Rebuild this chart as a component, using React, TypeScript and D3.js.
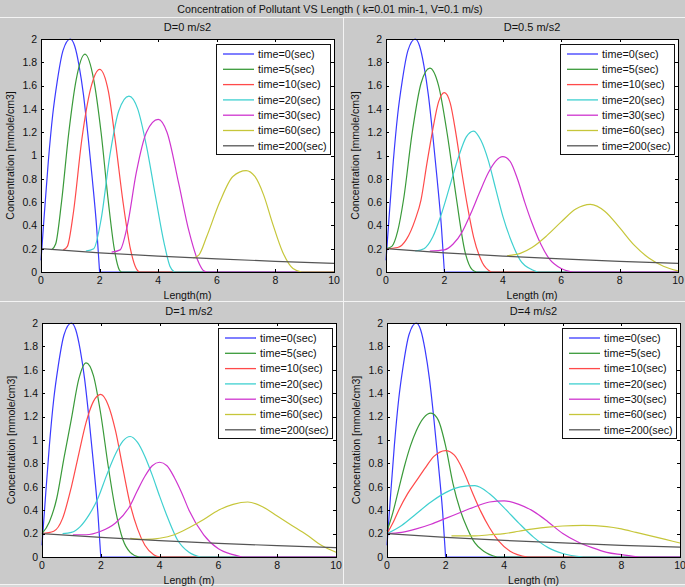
import React from 'react';
import * as d3 from 'd3';

type Pt = [number, number];

const mainTitle = 'Concentration of Pollutant VS Length ( k=0.01 min-1, V=0.1 m/s)';
const panelTitles = ['D=0 m/s2', 'D=0.5 m/s2', 'D=1 m/s2', 'D=4 m/s2'];
const xAxisLabels = ['Length(m)', 'Length (m)', 'Length (m)', 'Length (m)'];
const yAxisLabel = 'Concentration [mmole/cm3]';
const legendLabels = ['time=0(sec)', 'time=5(sec)', 'time=10(sec)', 'time=20(sec)', 'time=30(sec)', 'time=60(sec)', 'time=200(sec)'];
const xTicks = [0, 2, 4, 6, 8, 10];
const yTicks = [0, 0.2, 0.4, 0.6, 0.8, 1, 1.2, 1.4, 1.6, 1.8, 2];

// time = 0 (same initial profile in every panel)
const t0: Pt[] = [[0, 0.1], [0.1, 0.45], [0.25, 0.95], [0.4, 1.35], [0.55, 1.63], [0.75, 1.9], [1, 2.0], [1.15, 1.94], [1.3, 1.77], [1.45, 1.52], [1.6, 1.18], [1.75, 0.8], [1.9, 0.38], [2, 0], [10, 0]];

// D = 0
const d0t5: Pt[] = [[0.36, 0.19], [0.5, 0.24], [0.7, 0.6], [0.95, 1.2], [1.2, 1.65], [1.5, 1.87], [1.8, 1.65], [2.05, 1.2], [2.3, 0.6], [2.5, 0.2], [2.67, 0.02], [2.75, 0], [10, 0]];
const d0t10: Pt[] = [[0.76, 0.19], [0.9, 0.22], [1.1, 0.5], [1.4, 1.15], [1.7, 1.58], [2.0, 1.74], [2.3, 1.55], [2.55, 1.1], [2.8, 0.6], [3.05, 0.2], [3.25, 0.03], [3.35, 0], [10, 0]];
const d0t20: Pt[] = [[1.53, 0.18], [1.8, 0.2], [2.05, 0.45], [2.35, 1.0], [2.65, 1.38], [3.0, 1.51], [3.3, 1.4], [3.6, 1.08], [3.9, 0.66], [4.2, 0.25], [4.4, 0.05], [4.55, 0], [10, 0]];
const d0t30: Pt[] = [[2.41, 0.17], [2.7, 0.19], [2.95, 0.4], [3.25, 0.85], [3.6, 1.2], [4.0, 1.31], [4.3, 1.2], [4.7, 0.76], [5.05, 0.35], [5.4, 0.07], [5.55, 0.01], [5.65, 0], [10, 0]];
const d0t60: Pt[] = [[5.2, 0.12], [5.4, 0.15], [5.65, 0.3], [6.1, 0.6], [6.55, 0.82], [7.0, 0.87], [7.3, 0.82], [7.6, 0.66], [7.9, 0.42], [8.25, 0.17], [8.6, 0.03], [8.9, 0], [10, 0]];
const d0t200: Pt[] = [[0, 0.2], [2, 0.165], [4, 0.137], [6, 0.112], [8, 0.092], [10, 0.074]];

// D = 0.5
const d05t5: Pt[] = [[0, 0.2], [0.2, 0.22], [0.4, 0.35], [0.6, 0.62], [0.9, 1.2], [1.2, 1.62], [1.5, 1.75], [1.8, 1.6], [2.1, 1.18], [2.4, 0.65], [2.7, 0.18], [2.95, 0.02], [3.1, 0], [10, 0]];
const d05t10: Pt[] = [[0, 0.2], [0.4, 0.21], [0.7, 0.28], [1.0, 0.45], [1.2, 0.62], [1.4, 0.93], [1.6, 1.22], [1.8, 1.46], [2.0, 1.54], [2.2, 1.45], [2.4, 1.18], [2.6, 0.85], [2.8, 0.55], [3.0, 0.3], [3.3, 0.08], [3.6, 0], [10, 0]];
const d05t20: Pt[] = [[1.0, 0.18], [1.3, 0.2], [1.6, 0.3], [1.9, 0.5], [2.2, 0.75], [2.5, 1.0], [2.75, 1.16], [3.0, 1.21], [3.25, 1.13], [3.5, 0.96], [3.75, 0.72], [4.0, 0.48], [4.3, 0.26], [4.6, 0.1], [5.0, 0.02], [5.2, 0], [10, 0]];
const d05t30: Pt[] = [[1.5, 0.18], [2.0, 0.19], [2.3, 0.24], [2.6, 0.34], [2.9, 0.5], [3.2, 0.68], [3.5, 0.85], [3.75, 0.95], [4.0, 0.99], [4.25, 0.95], [4.5, 0.8], [4.75, 0.6], [5.0, 0.42], [5.3, 0.24], [5.6, 0.11], [6.0, 0.03], [6.4, 0], [10, 0]];
const d05t60: Pt[] = [[4.15, 0.14], [4.6, 0.16], [5.0, 0.21], [5.5, 0.31], [6.0, 0.43], [6.5, 0.54], [7.0, 0.58], [7.5, 0.52], [8.0, 0.38], [8.5, 0.23], [9.0, 0.12], [9.5, 0.05], [10, 0.01]];
const d05t200: Pt[] = [[0, 0.2], [2, 0.165], [4, 0.137], [6, 0.112], [8, 0.092], [10, 0.074]];

// D = 1
const d1t5: Pt[] = [[0, 0.2], [0.25, 0.3], [0.5, 0.5], [0.75, 0.85], [1.0, 1.18], [1.25, 1.52], [1.5, 1.66], [1.75, 1.55], [2.0, 1.22], [2.25, 0.78], [2.5, 0.4], [2.75, 0.15], [3.0, 0.04], [3.3, 0], [10, 0]];
const d1t10: Pt[] = [[0, 0.2], [0.4, 0.22], [0.7, 0.33], [1.0, 0.6], [1.25, 0.88], [1.5, 1.15], [1.75, 1.33], [2.0, 1.39], [2.25, 1.3], [2.5, 1.08], [2.75, 0.76], [3.0, 0.45], [3.25, 0.24], [3.5, 0.1], [3.8, 0.02], [4.0, 0], [10, 0]];
const d1t20: Pt[] = [[0.7, 0.2], [1.0, 0.21], [1.3, 0.26], [1.6, 0.36], [1.9, 0.5], [2.2, 0.7], [2.5, 0.88], [2.75, 0.99], [3.0, 1.03], [3.25, 0.98], [3.5, 0.86], [3.75, 0.7], [4.0, 0.52], [4.3, 0.32], [4.6, 0.15], [5.0, 0.04], [5.4, 0], [10, 0]];
const d1t30: Pt[] = [[1.05, 0.19], [1.5, 0.19], [2.0, 0.22], [2.5, 0.29], [3.0, 0.44], [3.25, 0.57], [3.5, 0.69], [3.75, 0.78], [4.0, 0.81], [4.25, 0.78], [4.5, 0.68], [4.75, 0.55], [5.0, 0.4], [5.5, 0.19], [6.0, 0.07], [6.5, 0.02], [6.8, 0], [10, 0]];
const d1t60: Pt[] = [[3.0, 0.16], [3.5, 0.15], [4.0, 0.16], [4.5, 0.19], [5.0, 0.25], [5.5, 0.32], [6.0, 0.4], [6.5, 0.45], [7.0, 0.47], [7.5, 0.43], [8.0, 0.35], [8.5, 0.27], [9.0, 0.19], [9.5, 0.1], [10, 0.04]];
const d1t200: Pt[] = [[0, 0.2], [2, 0.167], [4, 0.14], [6, 0.117], [8, 0.097], [10, 0.08]];

// D = 4
const d4t5: Pt[] = [[0, 0.22], [0.2, 0.38], [0.4, 0.58], [0.6, 0.78], [0.8, 0.95], [1.0, 1.08], [1.25, 1.19], [1.5, 1.23], [1.75, 1.17], [2.0, 0.95], [2.25, 0.63], [2.5, 0.4], [2.75, 0.24], [3.0, 0.12], [3.3, 0.05], [3.75, 0], [10, 0]];
const d4t10: Pt[] = [[0, 0.2], [0.2, 0.29], [0.4, 0.4], [0.7, 0.54], [1.0, 0.65], [1.3, 0.76], [1.6, 0.86], [2.0, 0.91], [2.3, 0.87], [2.6, 0.74], [2.9, 0.56], [3.2, 0.39], [3.5, 0.25], [3.8, 0.14], [4.2, 0.05], [4.8, 0], [10, 0]];
const d4t20: Pt[] = [[0, 0.2], [0.5, 0.27], [1.0, 0.37], [1.5, 0.47], [2.0, 0.55], [2.5, 0.6], [3.0, 0.61], [3.5, 0.54], [4.0, 0.42], [4.5, 0.29], [5.0, 0.17], [5.5, 0.08], [6.0, 0.03], [6.7, 0], [10, 0]];
const d4t30: Pt[] = [[0, 0.2], [0.5, 0.21], [1.0, 0.24], [1.5, 0.28], [2.0, 0.33], [2.5, 0.38], [3.0, 0.43], [3.5, 0.47], [4.0, 0.48], [4.5, 0.45], [5.0, 0.39], [5.5, 0.3], [6.0, 0.2], [6.5, 0.13], [7.0, 0.08], [7.5, 0.04], [8.0, 0.02], [8.6, 0], [10, 0]];
const d4t60: Pt[] = [[2.2, 0.18], [3.0, 0.18], [3.5, 0.19], [4.0, 0.2], [4.5, 0.22], [5.0, 0.24], [5.5, 0.255], [6.0, 0.265], [6.7, 0.27], [7.5, 0.26], [8.0, 0.24], [8.5, 0.21], [9.0, 0.18], [9.5, 0.15], [10, 0.12]];
const d4t200: Pt[] = [[0, 0.2], [2, 0.168], [4, 0.142], [6, 0.12], [8, 0.1], [10, 0.085]];

const panelSeries: Pt[][][] = [
  [t0, d0t5, d0t10, d0t20, d0t30, d0t60, d0t200],
  [t0, d05t5, d05t10, d05t20, d05t30, d05t60, d05t200],
  [t0, d1t5, d1t10, d1t20, d1t30, d1t60, d1t200],
  [t0, d4t5, d4t10, d4t20, d4t30, d4t60, d4t200],
];

const COLORS = ['#3a3aff', '#3a9a3a', '#ff4a4a', '#3fd0d0', '#cf35cf', '#c6c63a', '#555555'];
const FONT = '"Liberation Sans", Arial, sans-serif';
const BG = '#cacaca';

const RECTS = [
  { x: 41, y: 39, w: 293, h: 233 },
  { x: 386, y: 39, w: 292, h: 233 },
  { x: 42, y: 323, w: 294, h: 234 },
  { x: 387, y: 323, w: 293, h: 234 },
];

function splitTail(pts: Pt[]): [Pt[], Pt[] | null] {
  const n = pts.length;
  if (n > 2 && pts[n - 1][1] === 0 && pts[n - 2][1] === 0) {
    return [pts.slice(0, n - 1), pts.slice(n - 2)];
  }
  return [pts, null];
}

function Panel({ idx }: { idx: number }) {
  const r = RECTS[idx];
  const x = d3.scaleLinear().domain([0, 10]).range([r.x, r.x + r.w]);
  const y = d3.scaleLinear().domain([0, 2]).range([r.y + r.h, r.y]);
  const mono = d3.line<Pt>().x(d => x(d[0])).y(d => y(d[1])).curve(d3.curveMonotoneX);
  const lin = d3.line<Pt>().x(d => x(d[0])).y(d => y(d[1]));
  const fmt = d3.format('~g');
  const series = panelSeries[idx];
  const tick = 3;
  const lgW = 114, lgH = 110;
  const lgX = r.x + r.w - 4 - lgW;
  const lgY = r.y + 5;
  const rowStep = 15.3;
  return (
    <g>
      <rect x={r.x} y={r.y} width={r.w} height={r.h} fill="#ffffff" />
      <text x={r.x + r.w / 2} y={r.y - 8} textAnchor="middle" fontSize={11} fontFamily={FONT} fill="#111">{panelTitles[idx]}</text>
      {series.map((pts, i) => {
        const [bell, tail] = splitTail(pts);
        return (
          <g key={i}>
            <path d={mono(bell) || ''} fill="none" stroke={COLORS[i]} strokeWidth={1.2} />
            {tail && <path d={lin(tail) || ''} fill="none" stroke={COLORS[i]} strokeWidth={1.2} />}
          </g>
        );
      })}
      {/* ticks */}
      {xTicks.map(t => (
        <g key={'x' + t}>
          <line x1={Math.round(x(t)) + 0.5} x2={Math.round(x(t)) + 0.5} y1={r.y + r.h} y2={r.y + r.h - tick} stroke="#000" />
          <line x1={Math.round(x(t)) + 0.5} x2={Math.round(x(t)) + 0.5} y1={r.y} y2={r.y + tick} stroke="#000" />
          <text x={x(t)} y={r.y + r.h + 12} textAnchor="middle" fontSize={10.5} fontFamily={FONT} fill="#111">{fmt(t)}</text>
        </g>
      ))}
      {yTicks.map(t => (
        <g key={'y' + t}>
          <line x1={r.x} x2={r.x + tick} y1={Math.round(y(t)) + 0.5} y2={Math.round(y(t)) + 0.5} stroke="#000" />
          <line x1={r.x + r.w} x2={r.x + r.w - tick} y1={Math.round(y(t)) + 0.5} y2={Math.round(y(t)) + 0.5} stroke="#000" />
          <text x={r.x - 4} y={y(t) + 3.8} textAnchor="end" fontSize={10.5} fontFamily={FONT} fill="#111">{fmt(t)}</text>
        </g>
      ))}
      <rect x={r.x + 0.5} y={r.y + 0.5} width={r.w} height={r.h} fill="none" stroke="#000" strokeWidth={1} />
      <text x={r.x + r.w / 2} y={r.y + r.h + 26.5} textAnchor="middle" fontSize={10.5} fontFamily={FONT} fill="#111">{xAxisLabels[idx]}</text>
      <text transform={`translate(${r.x - 27.5},${r.y + r.h / 2}) rotate(-90)`} textAnchor="middle" fontSize={10.5} fontFamily={FONT} fill="#111">{yAxisLabel}</text>
      {/* legend */}
      <rect x={lgX + 0.5} y={lgY + 0.5} width={lgW} height={lgH} fill="#ffffff" stroke="#111" strokeWidth={1} />
      {legendLabels.map((lab, i) => {
        const cy = lgY + 10 + i * rowStep;
        return (
          <g key={lab}>
            <line x1={lgX + 7} x2={lgX + 38} y1={cy} y2={cy} stroke={COLORS[i]} strokeWidth={1.3} />
            <text x={lgX + 42} y={cy + 3.8} fontSize={10.8} fontFamily={FONT} fill="#111">{lab}</text>
          </g>
        );
      })}
    </g>
  );
}

export default function App() {
  const W = 685, H = 587;
  return (
    <svg width={W} height={H} style={{ position: 'absolute', left: 0, top: 0, display: 'block' }}>
      <rect x={0} y={0} width={W} height={H} fill={BG} />
      <rect x={0} y={585} width={W} height={H - 585} fill="#d8d8d8" />
      <text x={330} y={13} textAnchor="middle" fontSize={10.7} fontFamily={FONT} fill="#111">{mainTitle}</text>
      <line x1={0} x2={W} y1={17.5} y2={17.5} stroke="#f4f4f4" />
      <line x1={343.5} x2={343.5} y1={17} y2={585} stroke="#f4f4f4" />
      <line x1={0} x2={W} y1={301.5} y2={301.5} stroke="#f4f4f4" />
      <line x1={0} x2={W} y1={584.5} y2={584.5} stroke="#f4f4f4" />
      {[0, 1, 2, 3].map(i => <Panel key={i} idx={i} />)}
    </svg>
  );
}
